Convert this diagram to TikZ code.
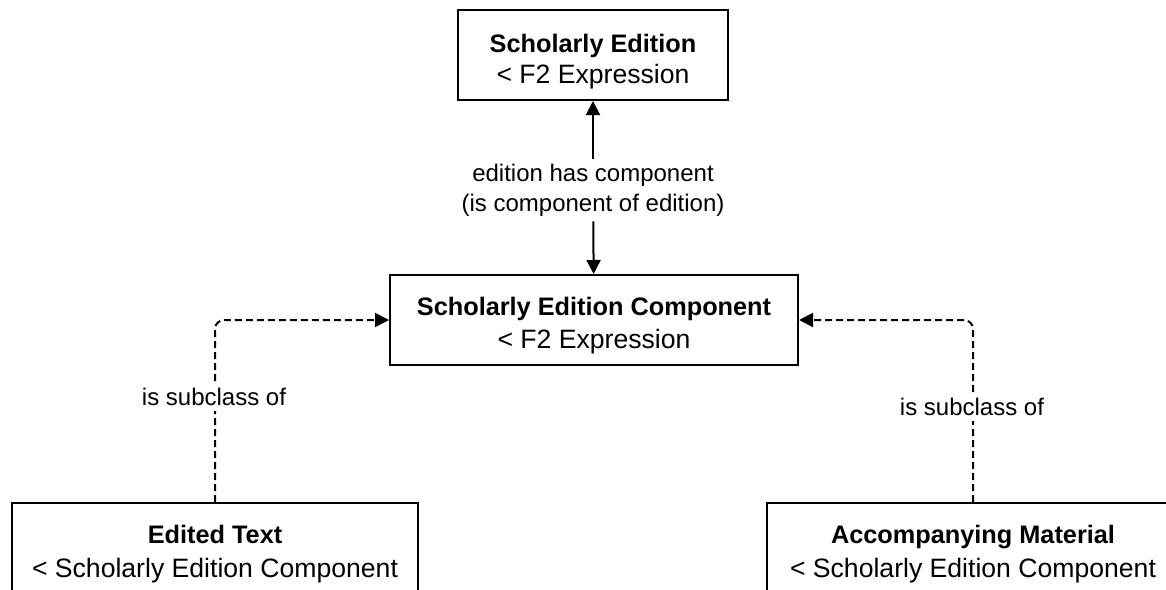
\documentclass[tikz,border=0pt]{standalone}
\usepackage{fontspec}
\setmainfont{Liberation Sans}
\usetikzlibrary{arrows.meta}
\begin{document}
\begin{tikzpicture}[x=1pt,y=-1pt,
  cls/.style={draw,line width=2pt,inner sep=0pt,fill=white},
  title/.style={anchor=base,inner sep=0pt,font=\fontsize{25.3}{30}\selectfont\bfseries},
  super/.style={anchor=base,inner sep=0pt,font=\fontsize{26.6}{30}\selectfont},
  lbl/.style={fill=white,align=center,inner sep=5pt,
    font=\fontsize{24}{30}\selectfont},
  rel/.style={line width=2pt,-{Triangle[length=14pt,width=14pt]}},
  sub/.style={rel,dash pattern=on 7pt off 4pt,rounded corners=9pt}]
\useasboundingbox (0,0) rectangle (1166,589);
\clip (0,0) rectangle (1166,589);

% class boxes
\node[cls,minimum width=270pt,minimum height=90pt] (ed) at (593,55) {};
\node[cls,minimum width=408pt,minimum height=90pt] (sec) at (594,320) {};
\node[cls,minimum width=406pt,minimum height=100pt] (et) at (215,553) {};
\node[cls,minimum width=412pt,minimum height=100pt] (am) at (973,553) {};

% class names and their superclasses
\node[title] (ed-n) at (593,52) {Scholarly Edition};
\node[super] (ed-s) at (593,83) {< F2 Expression};
\node[title] (sec-n) at (594,315) {Scholarly Edition Component};
\node[super] (sec-s) at (594,348) {< F2 Expression};
\node[title] (et-n) at (215,543) {Edited Text};
\node[super] (et-s) at (215,577) {< Scholarly Edition Component};
\node[title] (am-n) at (973,543) {Accompanying Material};
\node[super] (am-s) at (973,577) {< Scholarly Edition Component};

% component relation
\node[lbl] (hc) at (593,190) {edition has component\\(is component of edition)};
\draw[rel] (hc) -- (ed);
\draw[rel] (hc) -- (sec);

% subclass relations
\draw[sub] (et.north) |- (sec.west);
\draw[sub] (am.north) |- (sec.east);
\node[lbl] (ls) at (214,397) {is subclass of};
\node[lbl] (rs) at (972,407) {is subclass of};
\end{tikzpicture}
\end{document}
